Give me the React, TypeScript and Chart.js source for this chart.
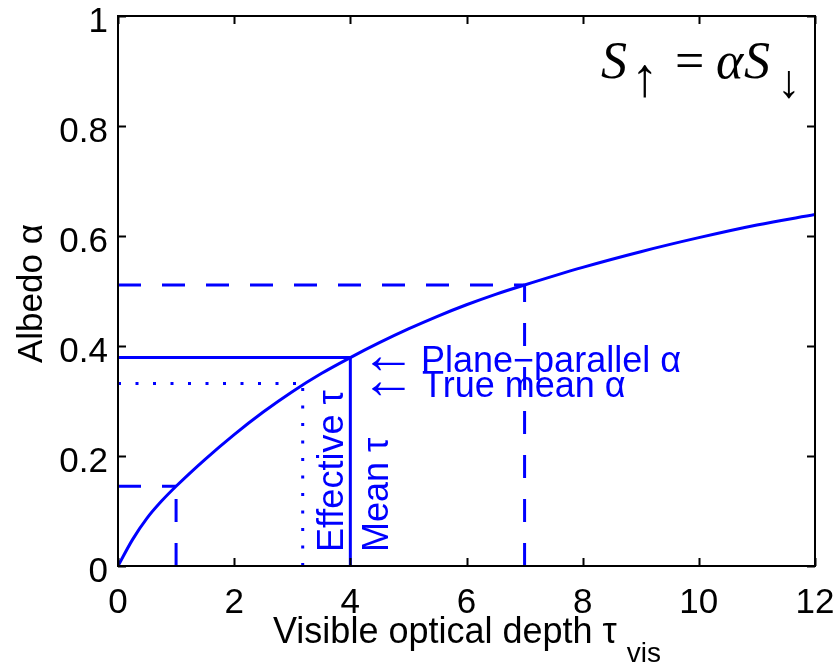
import React, { useEffect, useRef } from "react";
import { Chart, registerables } from "chart.js";

Chart.register(...registerables);

// Albedo curve
const tauVis = [0, 0.25, 0.5, 0.75, 1, 1.5, 2, 2.5, 3, 3.5, 4, 4.5, 5, 5.5, 6, 6.5, 7, 8, 9, 10, 11, 12];
const albedo = [0, 0.048, 0.087, 0.118, 0.145, 0.194, 0.239, 0.28, 0.317, 0.35, 0.379, 0.406, 0.431, 0.454, 0.475, 0.494, 0.511, 0.543, 0.5715, 0.597, 0.62, 0.639];

// marked points
const thinTau = 1;
const thinAlbedo = 0.145;
const thickTau = 7;
const thickAlbedo = 0.511;
const meanTau = 4;
const planeParallelAlbedo = 0.379;
const effectiveTau = 3.18;
const trueMeanAlbedo = 0.332;

// axes
const xTicks = [0, 2, 4, 6, 8, 10, 12];
const xTickLabels = ["0", "2", "4", "6", "8", "10", "12"];
const yTicks = [0, 0.2, 0.4, 0.6, 0.8, 1];
const yTickLabels = ["0", "0.2", "0.4", "0.6", "0.8", "1"];

const BLUE = "#0000ff";
const SANS = '"Liberation Sans", Arial, Helvetica, sans-serif';
const SERIF = '"Liberation Serif", "Times New Roman", serif';

function corner(t: number, a: number) {
  return {
    h: [
      { x: 0, y: a },
      { x: t, y: a },
    ],
    v: [
      { x: t, y: 0 },
      { x: t, y: a },
    ],
  };
}

// draw a single glyph scaled so its ink box has the given height (mode h) or width (mode w), centred on cx, cy
function fitGlyph(
  ctx: CanvasRenderingContext2D,
  ch: string,
  family: string,
  cx: number,
  cy: number,
  size: number,
  mode: "h" | "w"
) {
  ctx.font = `100px ${family}`;
  const m = ctx.measureText(ch);
  const gh = m.actualBoundingBoxAscent + m.actualBoundingBoxDescent;
  const gw = m.actualBoundingBoxLeft + m.actualBoundingBoxRight;
  const k = mode === "h" ? size / gh : size / gw;
  ctx.font = `${(100 * k).toFixed(2)}px ${family}`;
  const m2 = ctx.measureText(ch);
  const dx = cx - (m2.actualBoundingBoxRight - m2.actualBoundingBoxLeft) / 2;
  const dy = cy - (m2.actualBoundingBoxDescent - m2.actualBoundingBoxAscent) / 2;
  ctx.textAlign = "left";
  ctx.textBaseline = "alphabetic";
  ctx.fillText(ch, dx, dy);
}

const decorPlugin = {
  id: "decor",
  afterDraw(chart: any) {
    const ctx = chart.ctx as CanvasRenderingContext2D;
    const xs = chart.scales.x;
    const ys = chart.scales.y;
    const { left, right, top, bottom } = chart.chartArea;
    ctx.save();
    // frame
    ctx.strokeStyle = "#000";
    ctx.lineWidth = 2;
    ctx.strokeRect(left, top, right - left, bottom - top);
    // inward ticks
    const tl = 8;
    ctx.beginPath();
    xTicks.forEach((v) => {
      const px = Math.round(xs.getPixelForValue(v)) + 0.5;
      ctx.moveTo(px, bottom);
      ctx.lineTo(px, bottom - tl);
      ctx.moveTo(px, top);
      ctx.lineTo(px, top + tl);
    });
    yTicks.forEach((v) => {
      const py = Math.round(ys.getPixelForValue(v)) + 0.5;
      ctx.moveTo(left, py);
      ctx.lineTo(left + tl, py);
      ctx.moveTo(right, py);
      ctx.lineTo(right - tl, py);
    });
    ctx.stroke();

    // tick labels
    ctx.fillStyle = "#000";
    ctx.font = `35px ${SANS}`;
    ctx.textBaseline = "alphabetic";
    ctx.textAlign = "center";
    xTicks.forEach((v, i) => {
      ctx.fillText(xTickLabels[i], xs.getPixelForValue(v), 613);
    });
    ctx.textAlign = "right";
    yTicks.forEach((v, i) => {
      ctx.fillText(yTickLabels[i], 108, ys.getPixelForValue(v) + 16);
    });

    // axis titles
    ctx.textAlign = "left";
    ctx.font = `36px ${SANS}`;
    const xt = "Visible optical depth \u03c4";
    ctx.fillText(xt, 273, 643);
    const w = ctx.measureText(xt).width;
    ctx.font = `28px ${SANS}`;
    ctx.fillText("vis", 273 + w + 10, 662);

    ctx.save();
    ctx.translate(42, 363);
    ctx.rotate(-Math.PI / 2);
    ctx.font = `35px ${SANS}`;
    ctx.fillText("Albedo \u03b1", 0, 0);
    ctx.restore();

    // annotations
    ctx.fillStyle = BLUE;
    ctx.font = `36px ${SANS}`;
    ctx.save();
    ctx.translate(343, 552);
    ctx.rotate(-Math.PI / 2);
    ctx.fillText("Effective \u03c4", 0, 0);
    ctx.restore();
    ctx.save();
    ctx.translate(388, 552);
    ctx.rotate(-Math.PI / 2);
    ctx.fillText("Mean \u03c4", 0, 0);
    ctx.restore();

    ctx.font = `36px ${SANS}`;
    ctx.fillText("Plane\u2212parallel \u03b1", 421, 372);
    ctx.fillText("True mean \u03b1", 422, 397);
    fitGlyph(ctx, "\u2190", SANS, 388.5, 363.5, 33, "w");
    fitGlyph(ctx, "\u2190", SANS, 388.5, 388.5, 33, "w");

    // equation
    ctx.fillStyle = "#000";
    ctx.textAlign = "left";
    ctx.font = `italic 52px ${SERIF}`;
    ctx.fillText("S", 601, 78);
    ctx.fillText("\u03b1", 716, 78);
    ctx.fillText("S", 744, 78);
    ctx.font = `52px ${SERIF}`;
    ctx.fillText("=", 675, 78);
    fitGlyph(ctx, "\u2191", SERIF, 645, 81.5, 33, "h");
    fitGlyph(ctx, "\u2193", SERIF, 789, 84, 28, "h");
    ctx.restore();
  },
};

export default function App() {
  const ref = useRef<HTMLCanvasElement | null>(null);
  useEffect(() => {
    if (!ref.current) return;
    const thin = corner(thinTau, thinAlbedo);
    const thick = corner(thickTau, thickAlbedo);
    const mean = corner(meanTau, planeParallelAlbedo);
    const eff = corner(effectiveTau, trueMeanAlbedo);
    const dash = [23, 21];
    const dot = [3, 14.5];
    const base = {
      borderColor: BLUE,
      borderWidth: 3,
      pointRadius: 0,
      fill: false,
      tension: 0,
    };
    const chart = new Chart(ref.current, {
      type: "line",
      data: {
        datasets: [
          { ...base, data: thin.h, borderDash: dash },
          { ...base, data: thin.v, borderDash: dash },
          { ...base, data: thick.h, borderDash: dash },
          { ...base, data: thick.v, borderDash: dash },
          { ...base, data: eff.h, borderDash: dot },
          { ...base, data: eff.v, borderDash: dot },
          { ...base, data: mean.h },
          { ...base, data: mean.v },
          {
            ...base,
            data: tauVis.map((t, i) => ({ x: t, y: albedo[i] })),
            cubicInterpolationMode: "monotone",
          },
        ] as any,
      },
      options: {
        responsive: false,
        animation: false,
        events: [],
        layout: { padding: { left: 0, top: 16, right: 24, bottom: 0 } },
        plugins: { legend: { display: false }, tooltip: { enabled: false } },
        scales: {
          x: {
            type: "linear",
            min: 0,
            max: 12,
            ticks: { display: false, stepSize: 2 },
            grid: { display: false, drawTicks: false },
            border: { display: false },
            afterFit: (s: any) => {
              s.height = 101;
            },
          },
          y: {
            type: "linear",
            min: 0,
            max: 1,
            ticks: { display: false, stepSize: 0.2 },
            grid: { display: false, drawTicks: false },
            border: { display: false },
            afterFit: (s: any) => {
              s.width = 118;
            },
          },
        },
      } as any,
      plugins: [decorPlugin],
    });
    return () => chart.destroy();
  }, []);
  return (
    <div style={{ position: "absolute", left: 0, top: 0, width: 839, height: 667, background: "#fff" }}>
      <canvas ref={ref} width={839} height={667} style={{ display: "block" }} />
    </div>
  );
}
